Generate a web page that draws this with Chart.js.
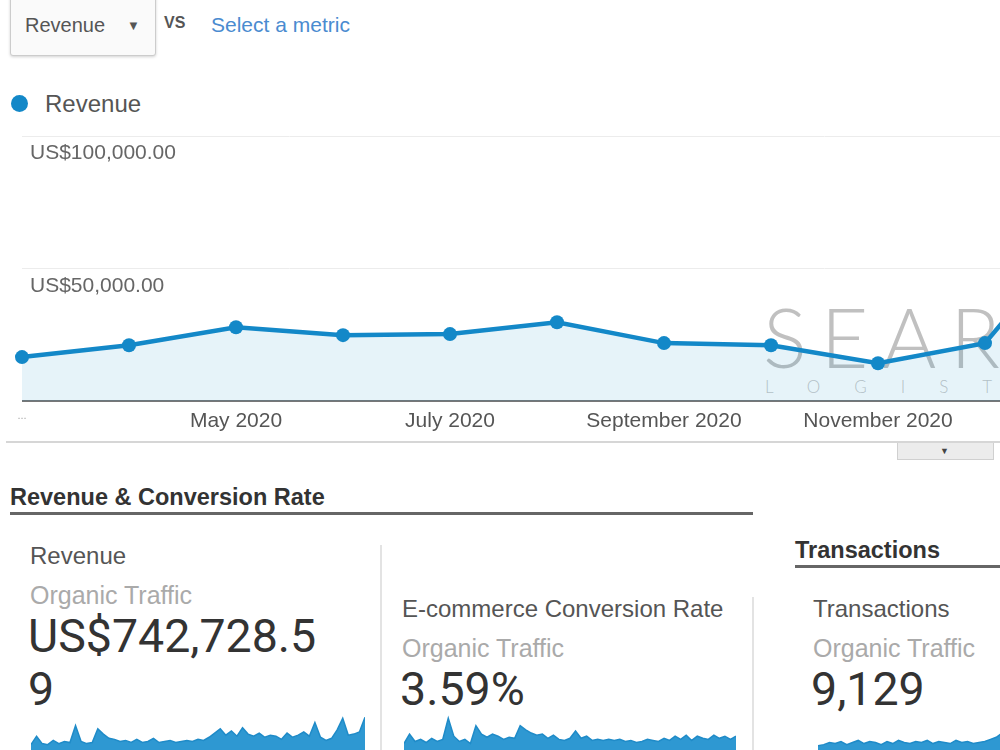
<!DOCTYPE html>
<html>
<head>
<meta charset="utf-8">
<script src="https://cdn.jsdelivr.net/npm/chart.js@4.4.1/dist/chart.umd.min.js"></script>
<style>
body{margin:0;background:#fff;font-family:"Liberation Sans",Arial,sans-serif;color:#555;}
#page{position:relative;width:1000px;height:750px;overflow:hidden;}
.abs{position:absolute;white-space:nowrap;}
.mid{transform:translateY(-50%);}
#dropdown{left:10px;top:-6px;width:144px;height:60px;border:1px solid #ccc;border-radius:3px;background:#fafafa;box-shadow:0 1px 3px rgba(0,0,0,0.18);}
.label{font-size:24px;color:#555;}
.sub{font-size:25px;color:#aaa;}
.big{font-family:Roboto,"Liberation Sans",sans-serif;font-size:46.5px;color:#333;line-height:53px;}
.head{font-weight:bold;font-size:23.5px;color:#333;}
.rule{position:absolute;}
</style>
</head>
<body>
<div id="page">

<!-- selecteur en haut -->
<div id="dropdown" class="abs"></div>
<div class="abs mid" style="left:25px;top:25px;font-size:20px;color:#555;">Revenue</div>
<div class="abs mid" style="left:127px;top:25px;font-size:13px;color:#555;">&#9660;</div>
<div class="abs mid" style="left:164px;top:23px;font-size:16px;font-weight:bold;color:#555;">VS</div>
<div class="abs mid" style="left:211px;top:25px;font-size:21px;color:#4a8bd0;">Select a metric</div>

<!-- legende -->
<div class="abs" style="left:11px;top:95px;width:17px;height:17px;border-radius:50%;background:#1388c8;"></div>
<div class="abs mid" style="left:45px;top:104px;font-size:24px;color:#555;">Revenue</div>

<!-- filigrane -->
<div class="abs mid" style="left:763px;top:336px;font-family:Lato,sans-serif;font-weight:300;font-size:82px;letter-spacing:14px;color:rgba(130,130,130,0.5);">SEARCH</div>
<div class="abs mid" style="left:765px;top:386px;font-family:Lato,sans-serif;font-weight:300;font-size:17px;letter-spacing:34px;color:rgba(140,140,140,0.5);">LOGISTICS</div>

<div class="abs" style="left:0;top:116px;width:1100px;height:325px;">
<canvas id="chart"></canvas>
</div>

<div class="rule" style="left:6px;top:441px;width:994px;height:2px;background:#d6d6d6;"></div>
<div class="abs" style="left:897px;top:443px;width:95px;height:16px;background:#ececec;border:1px solid #d0d0d0;border-top:none;"></div>
<div class="abs mid" style="left:940px;top:451px;font-size:9px;color:#444;">&#9660;</div>

<!-- sections du bas -->
<div class="abs mid head" style="left:10px;top:497px;">Revenue &amp; Conversion Rate</div>
<div class="rule" style="left:10px;top:512px;width:743px;height:3px;background:#666;"></div>
<div class="abs mid head" style="left:795px;top:550px;">Transactions</div>
<div class="rule" style="left:795px;top:565px;width:205px;height:3px;background:#666;"></div>

<div class="rule" style="left:380px;top:545px;width:2px;height:205px;background:#e3e3e3;"></div>
<div class="rule" style="left:752px;top:597px;width:2px;height:153px;background:#e3e3e3;"></div>

<div class="abs mid label" style="left:30px;top:556px;">Revenue</div>
<div class="abs mid sub" style="left:30px;top:595px;">Organic Traffic</div>
<div class="abs big" style="left:28px;top:610px;">US$742,728.5<br>9</div>

<div class="abs mid label" style="left:402px;top:609px;">E-commerce Conversion Rate</div>
<div class="abs mid sub" style="left:402px;top:648px;">Organic Traffic</div>
<div class="abs big" style="left:400px;top:663px;">3.59%</div>

<div class="abs mid label" style="left:813px;top:609px;">Transactions</div>
<div class="abs mid sub" style="left:813px;top:648px;">Organic Traffic</div>
<div class="abs big" style="left:811px;top:663px;">9,129</div>

<div class="abs" style="left:31px;top:712px;width:334px;height:40px;"><canvas id="spark1"></canvas></div>
<div class="abs" style="left:404px;top:712px;width:332px;height:40px;"><canvas id="spark2"></canvas></div>
<div class="abs" style="left:818px;top:712px;width:184px;height:40px;"><canvas id="spark3"></canvas></div>

</div>

<script>
// ===== donnees du graphique principal =====
const months = ["March 2020","April 2020","May 2020","June 2020","July 2020","August 2020",
  "September 2020","October 2020","November 2020","December 2020","January 2021"];
const tickLabels = ["...","","May 2020","","July 2020","","September 2020","","November 2020","",""];
const revenue = [16600, 21100, 27900, 24900, 25300, 29800, 21900, 21100, 14300, 21900, 70000];
const yTicks = [0, 50000, 100000];

// ===== sparklines (hauteurs lues a l'oeil) =====
const sparkRevenue = [7,15,8,7,11,8,10,9,25,10,8,9,22,17,13,12,10,11,9,12,9,10,13,9,10,11,9,10,11,10,
  12,11,14,18,22,16,20,15,23,17,15,18,14,16,15,12,18,14,16,19,15,28,14,11,13,21,32,16,17,19,33];
const sparkConversion = [8,17,10,12,9,13,10,12,32,15,10,12,8,25,17,14,17,15,12,14,13,25,21,18,16,17,13,16,12,11,
  13,20,13,15,11,12,11,12,11,12,10,11,9,10,12,11,10,13,11,15,12,16,11,15,13,12,16,13,15,12,15];
const sparkTransactions = [6,7,9,8,10,7,9,11,8,10,9,7,10,8,11,9,8,10,9,11,8,10,9,8,11,9,10,8,9,10,12,14,18];

const blue = "#1388c8";

let chart = new Chart(document.getElementById("chart"), {
  type: "line",
  data: {
    labels: months,
    datasets: [{
      label: "Revenue",
      data: revenue,
      borderColor: blue,
      borderWidth: 4.5,
      backgroundColor: "rgba(5,141,199,0.1)",
      fill: "origin",
      tension: 0,
      pointRadius: 7,
      pointBackgroundColor: blue,
      pointBorderWidth: 0,
      clip: false
    }]
  },
  options: {
    responsive: true,
    maintainAspectRatio: false,
    animation: false,
    layout: { padding: { left: 22, right: 3, top: 0, bottom: 0 } },
    plugins: { legend: { display: false }, tooltip: { enabled: false } },
    scales: {
      x: {
        offset: false,
        grid: { display: false, drawTicks: false },
        border: { display: false },
        afterFit: s => { s.height = 40; },
        ticks: {
          autoSkip: false,
          maxRotation: 0,
          padding: 8,
          color: ctx => ctx.index === 0 ? "#aaa" : "#555",
          font: ctx => ({ family: "'Liberation Sans', Arial", size: ctx.index === 0 ? 11 : 21 }),
          callback: (v, i) => tickLabels[i]
        }
      },
      y: {
        min: 0,
        max: 100000,
        afterFit: s => { s.width = 0; },
        afterBuildTicks: s => { s.ticks = yTicks.map(v => ({ value: v })); },
        border: { display: false },
        grid: {
          drawTicks: false,
          color: ctx => ctx.tick && ctx.tick.value === 0 ? "#777" : "#ececec",
          lineWidth: ctx => ctx.tick && ctx.tick.value === 0 ? 2 : 1
        },
        ticks: {
          mirror: true,
          padding: 8,
          labelOffset: 17,
          color: "#666",
          font: { family: "'Liberation Sans', Arial", size: 21 },
          callback: v => v === 0 ? "" : "US$" + v.toLocaleString("en-US") + ".00"
        }
      }
    }
  }
});

function sparkline(id, values){
  new Chart(document.getElementById(id), {
    type: "line",
    data: {
      labels: values.map((v, i) => i),
      datasets: [{
        data: values,
        borderColor: "#1f8bc8",
        borderWidth: 1.5,
        backgroundColor: "#2e98d2",
        fill: "origin",
        tension: 0,
        pointRadius: 0
      }]
    },
    options: {
      responsive: true,
      maintainAspectRatio: false,
      animation: false,
      layout: { padding: 0 },
      plugins: { legend: { display: false }, tooltip: { enabled: false } },
      scales: {
        x: { display: false, offset: false },
        y: { display: false, min: 0, max: 38 }
      }
    }
  });
}

sparkline("spark1", sparkRevenue);
sparkline("spark2", sparkConversion);
sparkline("spark3", sparkTransactions);
</script>
</body>
</html>
